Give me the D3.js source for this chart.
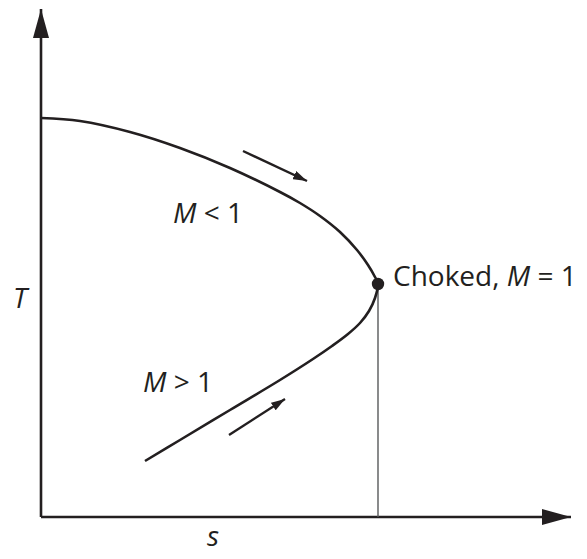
<!DOCTYPE html>
<html>
<head>
<meta charset="utf-8">
<script src="https://cdn.jsdelivr.net/npm/d3@7"></script>
<style>
  html, body { margin: 0; padding: 0; background: #fff; }
  svg text { font-family: "Open Sans", "Noto Sans", sans-serif; fill: #231f20; }
</style>
</head>
<body>
<svg id="chart" width="587" height="559"></svg>
<script>
// Fanno line on the T–s plane (entropy s, temperature T), arbitrary units.
// Subsonic branch, from low entropy up to the choked point.
const subsonicS = [0, 3.9, 8.9, 13.9, 18.9, 23.9, 25.9, 27.9, 29.9, 31.6, 32.7, 33.4, 33.7];
const subsonicT = [39.9, 39.6, 38.5, 36.9, 34.9, 32.5, 31.4, 30.1, 28.5, 26.7, 25.2, 24.0, 23.3];
// Supersonic branch, from the choked point back down to low entropy.
const supersonicS = [33.7, 33.4, 32.8, 31.9, 30.7, 29.1, 27.2, 23.9, 18.9, 13.9, 10.4];
const supersonicT = [23.3, 21.9, 20.6, 19.4, 18.3, 17.1, 15.8, 13.7, 10.7, 7.7, 5.6];
// Choked state (M = 1), the maximum-entropy point.
const chokedS = 33.7;
const chokedT = 23.3;
// Direction-of-flow arrows along each branch: [s0, T0, s1, T1].
const flowArrows = [
  [20.2, 36.6, 26.6, 33.6],
  [18.8, 8.2, 24.4, 11.8]
];

const ink = "#231f20";
const svg = d3.select("#chart");

const x = d3.scaleLinear().domain([0, 53]).range([41, 571]);
const y = d3.scaleLinear().domain([0, 50.8]).range([517, 9]);

const defs = svg.append("defs");
// Large axis arrowheads
defs.append("marker")
  .attr("id", "axisHead")
  .attr("markerUnits", "userSpaceOnUse")
  .attr("viewBox", "0 -8 29 16")
  .attr("refX", 29).attr("refY", 0)
  .attr("markerWidth", 29).attr("markerHeight", 16)
  .attr("orient", "auto")
  .append("path").attr("d", "M0,-8L29,0L0,8Z").attr("fill", ink);
// Small flow arrowheads
defs.append("marker")
  .attr("id", "flowHead")
  .attr("markerUnits", "userSpaceOnUse")
  .attr("viewBox", "0 -4.5 14 9")
  .attr("refX", 14).attr("refY", 0)
  .attr("markerWidth", 14).attr("markerHeight", 9)
  .attr("orient", "auto")
  .append("path").attr("d", "M0,-4.5L14,0L0,4.5Z").attr("fill", ink);

// Axes: plain lines without ticks, ending in arrowheads
const xAxis = d3.axisBottom(x).tickValues([]).tickSizeOuter(0);
const yAxis = d3.axisLeft(y).tickValues([]).tickSizeOuter(0);
const gx = svg.append("g").attr("transform", `translate(0,${y(0)})`).call(xAxis);
const gy = svg.append("g").attr("transform", `translate(${x(0)},0)`).call(yAxis);
[gx, gy].forEach(g => g.select(".domain")
  .attr("stroke", ink).attr("stroke-width", 2.6)
  .attr("marker-end", "url(#axisHead)"));
// Draw each domain from the origin outward so the arrow sits at the far end
gx.select(".domain").attr("d", `M${x(0)},0H${x.range()[1]}`);
gy.select(".domain").attr("d", `M0,${y(0)}V${y.range()[1]}`);

// Drop line from the choked point to the s axis
svg.append("line")
  .attr("x1", x(chokedS)).attr("x2", x(chokedS))
  .attr("y1", y(chokedT)).attr("y2", y(0))
  .attr("stroke", "#58595b").attr("stroke-width", 1.4);

// Fanno curve
const pts = subsonicS.map((s, i) => [s, subsonicT[i]])
  .concat(supersonicS.slice(1).map((s, i) => [s, supersonicT[i + 1]]));
const line = d3.line()
  .x(d => x(d[0])).y(d => y(d[1]))
  .curve(d3.curveCatmullRom.alpha(0.5));
svg.append("path")
  .datum(pts)
  .attr("d", line)
  .attr("fill", "none")
  .attr("stroke", ink)
  .attr("stroke-width", 2.6);

// Choked point
svg.append("circle")
  .attr("cx", x(chokedS)).attr("cy", y(chokedT))
  .attr("r", 6.2).attr("fill", ink);

// Flow direction arrows
svg.selectAll(".flow")
  .data(flowArrows)
  .join("line")
  .attr("class", "flow")
  .attr("x1", d => x(d[0])).attr("y1", d => y(d[1]))
  .attr("x2", d => x(d[2])).attr("y2", d => y(d[3]))
  .attr("stroke", ink).attr("stroke-width", 2.4)
  .attr("marker-end", "url(#flowHead)");

// Labels
const fs = 28;
function mathLabel(px, py, parts) {
  const t = svg.append("text").attr("x", px).attr("y", py).attr("font-size", fs);
  parts.forEach(p => t.append("tspan")
    .attr("font-style", p.italic ? "italic" : "normal")
    .text(p.text));
  return t;
}
mathLabel(x(13.2), y(29.4), [{text: "M", italic: true}, {text: " < 1"}]);
mathLabel(x(10.2), y(12.5), [{text: "M", italic: true}, {text: " > 1"}]);
mathLabel(x(chokedS) + 15, y(chokedT) + 2, [{text: "Choked, "}, {text: "M", italic: true}, {text: " = 1"}]);
mathLabel(13, 308, [{text: "T", italic: true}]);
mathLabel(x(16.6), 546, [{text: "s", italic: true}]);
</script>
</body>
</html>
